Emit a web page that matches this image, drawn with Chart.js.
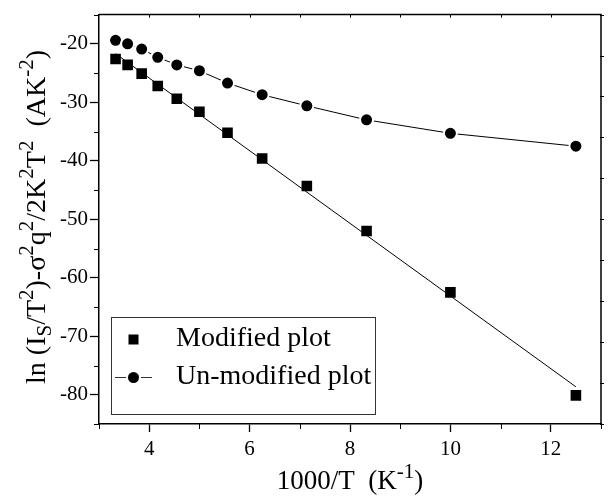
<!DOCTYPE html>
<html>
<head>
<meta charset="utf-8">
<script src="https://cdn.jsdelivr.net/npm/chart.js@4.4.1/dist/chart.umd.min.js"></script>
<style>
  body { margin: 0; background: #fff; }
  #wrap { width: 610px; height: 497px; position: relative; }
</style>
</head>
<body>
<div id="wrap"><canvas id="arrhenius"></canvas></div>
<script>
// 1000/T values (K^-1)
const invT = [3.33, 3.57, 3.85, 4.17, 4.55, 5.0, 5.56, 6.25, 7.14, 8.33, 10.0, 12.5];
const modified = [-22.6, -23.6, -25.1, -27.2, -29.4, -31.6, -35.2, -39.6, -44.3, -52.0, -62.5, -80.1];
const unmodified = [-19.4, -20.0, -20.9, -22.3, -23.6, -24.6, -26.7, -28.7, -30.6, -33.0, -35.3, -37.5];
const seriesNames = ['Modified plot', 'Un-modified plot'];
const xTicks = [4, 6, 8, 10, 12];
const yTicks = [-80, -70, -60, -50, -40, -30, -20];

const FONT = 'Liberation Serif';

// least squares line through the modified plot
function fitLine(xs, ys) {
    const n = xs.length;
    const mx = xs.reduce((a, b) => a + b, 0) / n;
    const my = ys.reduce((a, b) => a + b, 0) / n;
    let sxy = 0, sxx = 0;
    xs.forEach((x, i) => { sxy += (x - mx) * (ys[i] - my); sxx += (x - mx) * (x - mx); });
    const k = sxy / sxx, b = my - k * mx;
    const x0 = Math.min(...xs), x1 = Math.max(...xs);
    return [{x: x0, y: k * x0 + b}, {x: x1, y: k * x1 + b}];
}

const pts = (ys) => invT.map((x, i) => ({x: x, y: ys[i]}));

// text with sub/superscripts, parts = [[text, 'n'|'sup'|'sub'], ...]
function drawRich(ctx, parts, cx, baseY, size, angle) {
    const small = Math.round(size * 0.76);
    const widthOf = (p) => {
        ctx.font = (p[1] === 'n' ? size : small) + 'px "' + FONT + '"';
        return ctx.measureText(p[0]).width;
    };
    const total = parts.reduce((a, p) => a + widthOf(p), 0);
    ctx.save();
    ctx.translate(cx, baseY);
    ctx.rotate(angle);
    ctx.fillStyle = '#000';
    ctx.textBaseline = 'alphabetic';
    ctx.textAlign = 'left';
    let x = -total / 2;
    parts.forEach(p => {
        const w = widthOf(p);
        let dy = 0;
        if (p[1] === 'sup') dy = -size * 0.42;
        if (p[1] === 'sub') dy = size * 0.2;
        ctx.fillText(p[0], x, dy);
        x += w;
    });
    ctx.restore();
}

const framePlugin = {
    id: 'frame',
    afterDraw(chart) {
        const {ctx, chartArea: a, scales} = chart;
        const xs = scales.x, ys = scales.y;
        ctx.save();
        ctx.strokeStyle = '#000';
        ctx.lineWidth = 1.5;
        ctx.beginPath();
        ctx.moveTo(a.left, a.top); ctx.lineTo(a.right, a.top); ctx.lineTo(a.right, a.bottom);
        ctx.stroke();
        ctx.lineWidth = 1;
        ctx.beginPath();
        // minor ticks bottom
        for (let v = 3; v <= 13; v += 2) {
            const px = Math.round(xs.getPixelForValue(v)) + 0.5;
            ctx.moveTo(px, a.bottom); ctx.lineTo(px, a.bottom + 5);
        }
        // minor ticks left
        for (let v = -85; v <= -15; v += 10) {
            const py = Math.round(ys.getPixelForValue(v)) + 0.5;
            ctx.moveTo(a.left, py); ctx.lineTo(a.left - 5, py);
        }
        // top ticks
        for (let v = 4; v <= 12; v += 1) {
            const px = Math.round(xs.getPixelForValue(v)) + 0.5;
            ctx.moveTo(px, a.top); ctx.lineTo(px, a.top + 3);
        }
        // right ticks
        for (let k = 0; k <= 10; k++) {
            const py = Math.round(ys.getPixelForValue(-85 + 7 * k)) + 0.5;
            ctx.moveTo(a.right - 1, py); ctx.lineTo(a.right + 3, py);
        }
        ctx.stroke();
        ctx.restore();

        // axis titles
        drawRich(ctx, [['1000/T  (K', 'n'], ['-1', 'sup'], [')', 'n']],
            (a.left + a.right) / 2, 489, 27, 0);
        drawRich(ctx, [
            ['ln (I', 'n'], ['S', 'sub'], ['/T', 'n'], ['2', 'sup'], [')-\u03c3', 'n'], ['2', 'sup'],
            ['q', 'n'], ['2', 'sup'], ['/2K', 'n'], ['2', 'sup'], ['T', 'n'], ['2', 'sup'],
            ['  (AK', 'n'], ['-2', 'sup'], [')', 'n']
        ], 45, 217, 28, -Math.PI / 2);

        // legend
        ctx.save();
        ctx.strokeStyle = '#333';
        ctx.lineWidth = 1;
        ctx.strokeRect(111.5, 317.5, 264, 97);
        ctx.fillStyle = '#000';
        ctx.fillRect(128.5, 334.5, 10, 10);
        ctx.beginPath();
        ctx.moveTo(115, 377.5); ctx.lineTo(126, 377.5);
        ctx.moveTo(141, 377.5); ctx.lineTo(152, 377.5);
        ctx.stroke();
        ctx.beginPath();
        ctx.arc(133.5, 377.5, 5.5, 0, Math.PI * 2);
        ctx.fill();
        ctx.font = '28px "' + FONT + '"';
        ctx.textBaseline = 'alphabetic';
        ctx.fillText(chart.data.datasets[0].label, 176, 346);
        ctx.fillText(chart.data.datasets[1].label, 176, 384);
        ctx.restore();
    }
};

new Chart(document.getElementById('arrhenius'), {
    type: 'scatter',
    data: {
        datasets: [{
            label: seriesNames[0],
            data: pts(modified),
            pointStyle: 'rect',
            pointRadius: 7.5,
            pointBackgroundColor: '#000',
            pointBorderColor: '#000',
            pointBorderWidth: 0,
            showLine: false
        }, {
            label: seriesNames[1],
            data: pts(unmodified),
            pointStyle: 'circle',
            pointRadius: 6.5,
            pointBackgroundColor: '#000',
            pointBorderColor: '#fff',
            pointBorderWidth: 2,
            showLine: true,
            borderColor: '#000',
            borderWidth: 1
        }, {
            label: 'fit',
            data: fitLine(invT, modified),
            pointRadius: 0,
            showLine: true,
            borderColor: '#000',
            borderWidth: 1
        }]
    },
    options: {
        responsive: true,
        maintainAspectRatio: false,
        animation: false,
        layout: { padding: { top: 6, right: 9, left: 0, bottom: 0 } },
        plugins: { legend: { display: false }, tooltip: { enabled: false } },
        scales: {
            x: {
                type: 'linear', min: 3, max: 13,
                afterBuildTicks: s => { s.ticks = xTicks.map(v => ({value: v})); },
                afterFit: s => { s.height = 73; },
                ticks: { color: '#000', font: { family: FONT, size: 21 }, padding: 5, maxRotation: 0, autoSkip: false, callback: v => String(v) },
                grid: { drawOnChartArea: false, tickLength: 8, tickColor: '#000', tickWidth: 1.3 },
                border: { color: '#000', width: 1.5 }
            },
            y: {
                type: 'linear', min: -85, max: -15,
                afterBuildTicks: s => { s.ticks = yTicks.map(v => ({value: v})); },
                afterFit: s => { s.width = 99; },
                ticks: { color: '#000', font: { family: FONT, size: 21 }, padding: 2, autoSkip: false, callback: v => String(v) },
                grid: { drawOnChartArea: false, tickLength: 9, tickColor: '#000', tickWidth: 1.3 },
                border: { color: '#000', width: 1.5 }
            }
        }
    },
    plugins: [framePlugin]
});
</script>
</body>
</html>
